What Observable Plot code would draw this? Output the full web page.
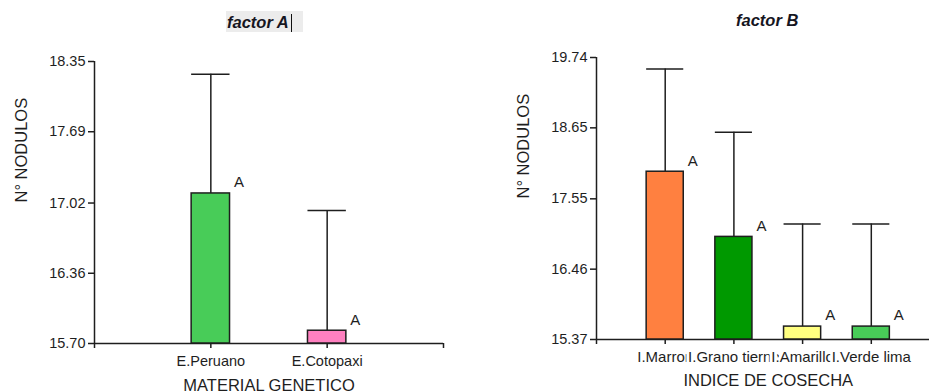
<!DOCTYPE html>
<html><head><meta charset="utf-8">
<script src="https://cdn.jsdelivr.net/npm/d3@7"></script>
<script src="https://cdn.jsdelivr.net/npm/@observablehq/plot@0.6"></script>
<style>
body{margin:0;background:#fff;overflow:hidden;font-family:"Liberation Sans",Arial,sans-serif;}
#wrap{position:relative;width:929px;height:391px;overflow:hidden;}
.title{position:absolute;font-weight:bold;font-style:italic;font-size:16.5px;color:#16161f;line-height:20px;white-space:nowrap;}
#tA{left:226px;top:11px;background:#ececec;padding:1px 11px 0 1px;}
#caret{display:inline-block;width:1px;height:18px;background:#111;vertical-align:-4px;margin-left:2px;}
#tB{left:736px;top:10px;}
#row{position:absolute;top:40px;left:0;display:flex;}
</style></head><body>
<div id="wrap">
<div class="title" id="tA">factor A<span id="caret"></span></div>
<div class="title" id="tB">factor B</div>
<div id="row"><div id="pA"></div><div id="pB"></div></div>
</div>
<script>
// ---- data: factor A (MATERIAL GENETICO)
const catsA = ["E.Peruano", "E.Cotopaxi"];
const meansA = [17.11, 15.82];
const upperA = [18.23, 16.95];
const lettersA = ["A", "A"];
const yTicksA = [15.70, 16.36, 17.02, 17.69, 18.35];
// ---- data: factor B (INDICE DE COSECHA)
const catsB = ["I.Marron", "I.Grano tierno", "I.Amarillo", "I.Verde lima"];
const meansB = [17.97, 16.96, 15.57, 15.57];
const upperB = [19.56, 18.58, 17.16, 17.16];
const lettersB = ["A", "A", "A", "A"];
const yTicksB = [15.37, 16.46, 17.55, 18.65, 19.74];
const yTitle = "N° NODULOS";
const xTitleA = "MATERIAL GENETICO";
const xTitleB = "INDICE DE COSECHA";
// palette (styles)
const paletteA = ["#48CC58", "#FF80C0"];
const paletteB = ["#FF8040", "#009900", "#FFFF80", "#48CC58"];

const ink = "#1e1e1e";
const font = "'Liberation Sans', Arial, sans-serif";

function panel(o) {
  const yMin = o.yTicks[0], yMax = o.yTicks[o.yTicks.length - 1];
  const data = o.cats.map((c, i) => ({c, x: i + 1, mean: o.means[i], up: o.upper[i], letter: o.letters[i], color: o.colors[i]}));
  const h = o.half;
  const mid = (o.xDomain[0] + o.xDomain[1]) / 2;
  return Plot.plot({
    width: o.width, height: 351,
    marginLeft: o.marginLeft, marginRight: o.marginRight, marginTop: o.marginTop, marginBottom: o.marginBottom,
    x: {domain: o.xDomain, range: o.xRange},
    y: {domain: [yMin, yMax]},
    style: {fontFamily: font, color: ink, background: "white", overflow: "visible"},
    marks: [
      Plot.axisY({ticks: o.yTicks, tickFormat: d => d.toFixed(2), tickSize: 6, tickPadding: 3, fontSize: 14.5, label: null, stroke: ink, strokeWidth: 1.5, fill: ink}),
      Plot.axisX({ticks: d3.range(o.xDomain[0], o.xDomain[1] + 1), tickSize: 5, tickFormat: () => "", label: null, stroke: ink, strokeWidth: 1.5}),
      Plot.ruleX([0], {x: () => o.xDomain[0], y1: () => yMin, y2: () => yMax, stroke: ink, strokeWidth: 1.5}),
      Plot.ruleY([0], {y: () => yMin, x1: () => o.xDomain[0], x2: () => o.xDomain[1], stroke: ink, strokeWidth: 1.5}),
      Plot.ruleX(data, {x: "x", y1: "mean", y2: "up", stroke: ink, strokeWidth: 1.5}),
      Plot.ruleY(data, {y: "up", x1: d => d.x - h, x2: d => d.x + h, stroke: ink, strokeWidth: 1.5}),
      Plot.rect(data, {x1: d => d.x - h, x2: d => d.x + h, y1: () => yMin, y2: "mean", fill: "color", stroke: ink, strokeWidth: 1.5}),
      Plot.text(data, {x: d => d.x + h, y: "mean", text: "letter", textAnchor: "start", dx: 4, dy: -11, fontSize: 15, fill: ink}),
      Plot.text(data, {x: "x", y: () => yMin, text: "c", dy: o.labelDy, fontSize: o.labelSize, fill: ink, stroke: "white", strokeWidth: 6, paintOrder: "stroke"}),
      Plot.text([o.xTitle], {x: () => mid, y: () => yMin, text: d => d, dy: o.titleDy, fontSize: 16.5, fill: ink}),
      Plot.text([yTitle], {frameAnchor: "left", rotate: -90, dx: o.yTitleDx, text: d => d, fontSize: 16.5, fill: ink})
    ]
  });
}

document.getElementById("pA").append(panel({
  cats: catsA, means: meansA, upper: upperA, letters: lettersA, colors: paletteA, yTicks: yTicksA,
  xTitle: xTitleA, width: 465, marginLeft: 94, marginRight: 22, marginTop: 21, marginBottom: 48,
  xDomain: [0, 3], xRange: [94, 443], half: 0.165, labelDy: 18, labelSize: 14.5, titleDy: 42, yTitleDx: -73
}));
document.getElementById("pB").append(panel({
  cats: catsB, means: meansB, upper: upperB, letters: lettersB, colors: paletteB, yTicks: yTicksB,
  xTitle: xTitleB, width: 464, marginLeft: 131, marginRight: 0, marginTop: 17, marginBottom: 52,
  xDomain: [0, 5], xRange: [131, 474.5], half: 0.27, labelDy: 18, labelSize: 15, titleDy: 41, yTitleDx: -73
}));
</script>
</body></html>
